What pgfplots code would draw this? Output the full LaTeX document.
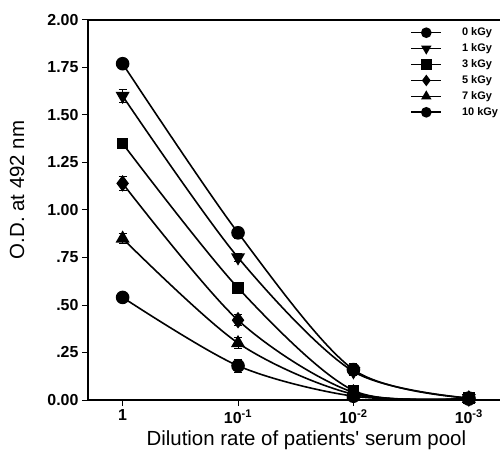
\documentclass[border=0pt]{standalone}
\usepackage{pgfplots}
\pgfplotsset{compat=1.18}
\usepackage{fontspec}
\setmainfont{Liberation Sans}
\newcommand{\lf}{\fontsize{11}{13}\selectfont\bfseries}
\begin{document}
\begin{tikzpicture}
\begin{axis}[
  scale only axis, width=412bp, height=380bp,
  axis x line*=box, axis y line*=left,
  xtick pos=bottom, ytick pos=left,
  xmin=-0.3, xmax=3.27, ymin=0, ymax=2,
  xtick={0,1,2,3},
  xticklabels={1,10\textsuperscript{-1},10\textsuperscript{-2},10\textsuperscript{-3}},
  ytick={0,0.25,0.5,0.75,1,1.25,1.5,1.75,2},
  yticklabels={0.00,.25,.50,.75,1.00,1.25,1.50,1.75,2.00},
  tick align=outside, major tick length=6bp,
  tick style={line width=1bp,black},
  axis line style={line width=1.4bp},
  tick label style={font=\fontsize{16}{18}\selectfont\bfseries},
  /pgf/number format/assume math mode=true,
  xlabel={Dilution rate of patients\textquotesingle\ serum pool},
  ylabel={O.D. at 492 nm},
  every axis x label/.style={at={(rel axis cs:0.53,0)}, yshift=-40bp, anchor=center, font=\fontsize{20.5}{24}\selectfont},
  every axis y label/.style={at={(rel axis cs:0,0.553)}, xshift=-71bp, rotate=90, anchor=center, font=\fontsize{20.5}{24}\selectfont},
  clip=false,
  error bars/error bar style={line width=1bp, solid},
  error bars/error mark options={rotate=90, mark size=4bp, line width=1bp},
  legend style={at={(rel axis cs:0.775,0.99)}, anchor=north west, draw=none, fill=none,
    row sep=2.5bp, font=\lf,
    /tikz/every odd column/.append style={column sep=18bp}},
  legend cell align=left,
  legend image code/.code={\draw[mark repeat=2,mark phase=2,#1,mark size=4.5bp] plot coordinates {(0bp,0bp) (15bp,0bp) (30bp,0bp)};},
  ser/.style={black, solid, line width=1.6bp, smooth, mark options={solid,fill=black,draw=black}},
]
\addplot[ser, mark=*, mark size=6bp, error bars/.cd, y dir=both, y explicit] coordinates {
  (0,1.77) +- (0,0.02) (1,0.88) +- (0,0.03) (2,0.16) +- (0,0.03) (3,0.01) +- (0,0)};
\addlegendentry{\lf 0 kGy}
\addplot[ser, mark=triangle*, mark options={rotate=180}, mark size=6.5bp, error bars/.cd, y dir=both, y explicit] coordinates {
  (0,1.60) +- (0,0.035) (1,0.75) +- (0,0.02) (2,0.15) +- (0,0.02) (3,0.01) +- (0,0)};
\addlegendentry{\lf 1 kGy}
\addplot[ser, mark=square*, mark size=5bp, error bars/.cd, y dir=both, y explicit] coordinates {
  (0,1.35) +- (0,0.02) (1,0.59) +- (0,0.02) (2,0.05) +- (0,0.02) (3,0.01) +- (0,0)};
\addlegendentry{\lf 3 kGy}
\addplot[ser, mark=diamond*, mark size=7bp, error bars/.cd, y dir=both, y explicit] coordinates {
  (0,1.14) +- (0,0.035) (1,0.42) +- (0,0.03) (2,0.04) +- (0,0.02) (3,0.008) +- (0,0)};
\addlegendentry{\lf 5 kGy}
\addplot[ser, mark=triangle*, mark size=6.5bp, error bars/.cd, y dir=both, y explicit] coordinates {
  (0,0.85) +- (0,0.025) (1,0.30) +- (0,0.03) (2,0.03) +- (0,0.02) (3,0.006) +- (0,0)};
\addlegendentry{\lf 7 kGy}
\addplot[ser, mark=*, mark size=6bp, error bars/.cd, y dir=both, y explicit] coordinates {
  (0,0.54) +- (0,0.02) (1,0.18) +- (0,0.035) (2,0.02) +- (0,0.01) (3,0.005) +- (0,0)};
\addlegendentry{\lf 10 kGy}
\end{axis}
\pgfresetboundingbox
\path[use as bounding box] (-88bp,-55bp) rectangle (416bp,400bp);
\end{tikzpicture}
\end{document}
